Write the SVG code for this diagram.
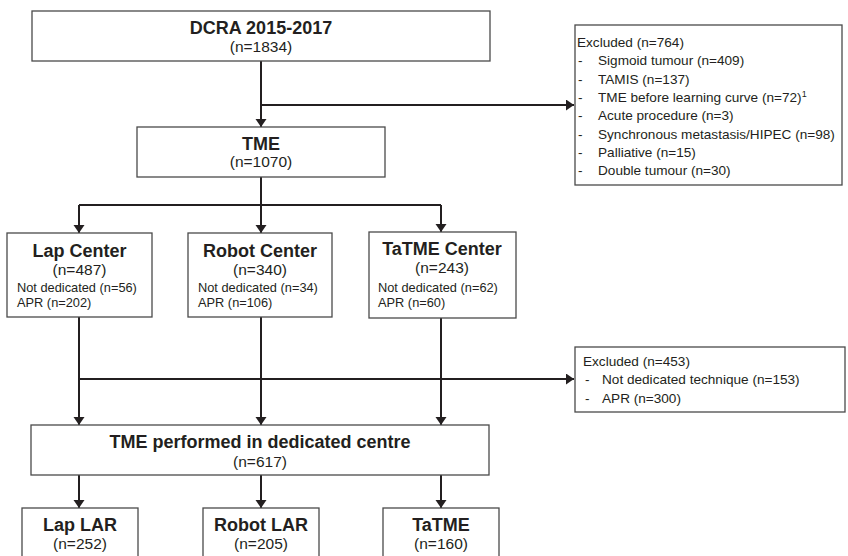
<svg xmlns="http://www.w3.org/2000/svg" width="848" height="556" viewBox="0 0 848 556">
<style>
.box{fill:#fff;stroke:#4a4a4a;stroke-width:1.3}
.t{font-family:"Liberation Sans",Arial,sans-serif;font-weight:bold;font-size:18px;fill:#231f20;text-anchor:middle}
.n{font-family:"Liberation Sans",Arial,sans-serif;font-size:15.5px;fill:#231f20;text-anchor:middle}
.d{font-family:"Liberation Sans",Arial,sans-serif;font-size:12.8px;fill:#231f20}
.x{font-family:"Liberation Sans",Arial,sans-serif;font-size:13.6px;fill:#231f20}
.c{fill:none;stroke:#231f20;stroke-width:2}
</style>
<defs>
<marker id="ah" markerUnits="userSpaceOnUse" markerWidth="9" markerHeight="12" refX="8" refY="5.5" orient="auto" viewBox="0 0 9 12">
<path d="M0,0 L8,5.5 L0,11 z" fill="#231f20"/>
</marker>
</defs>
<rect width="848" height="556" fill="#fff"/>
<g id="connectors">
<path class="c" d="M261,61 V127" marker-end="url(#ah)"/>
<path class="c" d="M261,105 H574" marker-end="url(#ah)"/>
<path class="c" d="M261,177 V205 M79,205 H441"/>
<path class="c" d="M79,205 V233" marker-end="url(#ah)"/>
<path class="c" d="M261,205 V233" marker-end="url(#ah)"/>
<path class="c" d="M441,205 V232" marker-end="url(#ah)"/>
<path class="c" d="M79,317 V425" marker-end="url(#ah)"/>
<path class="c" d="M261,317 V425" marker-end="url(#ah)"/>
<path class="c" d="M441,318 V425" marker-end="url(#ah)"/>
<path class="c" d="M79,379 H574" marker-end="url(#ah)"/>
<path class="c" d="M79,475 V508" marker-end="url(#ah)"/>
<path class="c" d="M261,475 V508" marker-end="url(#ah)"/>
<path class="c" d="M441,475 V508" marker-end="url(#ah)"/>
</g>
<g id="dcra">
<rect class="box" x="32" y="11" width="458" height="50"/>
<text class="t" x="261" y="34">DCRA 2015-2017</text>
<text class="n" x="261" y="52">(n=1834)</text>
</g>
<g id="excluded1">
<rect class="box" x="575" y="25" width="267" height="160"/>
<text class="x" x="577" y="47">Excluded (n=764)</text>
<g class="x">
<text x="578" y="65.3">-</text><text x="598" y="65.3">Sigmoid tumour (n=409)</text>
<text x="578" y="83.6">-</text><text x="598" y="83.6">TAMIS (n=137)</text>
<text x="578" y="102">-</text><text x="598" y="102">TME before learning curve (n=72)<tspan font-size="9px" dy="-5">1</tspan></text>
<text x="578" y="120.2">-</text><text x="598" y="120.2">Acute procedure (n=3)</text>
<text x="578" y="138.5">-</text><text x="598" y="138.5">Synchronous metastasis/HIPEC (n=98)</text>
<text x="578" y="156.8">-</text><text x="598" y="156.8">Palliative (n=15)</text>
<text x="578" y="175">-</text><text x="598" y="175">Double tumour (n=30)</text>
</g>
</g>
<g id="tme">
<rect class="box" x="137" y="127" width="248" height="50"/>
<text class="t" x="261" y="150">TME</text>
<text class="n" x="261" y="167">(n=1070)</text>
</g>
<g id="lapcenter">
<rect class="box" x="7" y="233" width="145" height="84"/>
<text class="t" x="79.5" y="256.7">Lap Center</text>
<text class="n" x="79.5" y="275">(n=487)</text>
<text class="d" x="17" y="292">Not dedicated (n=56)</text>
<text class="d" x="17" y="307">APR (n=202)</text>
</g>
<g id="robotcenter">
<rect class="box" x="188" y="233" width="144" height="84"/>
<text class="t" x="260" y="256.7">Robot Center</text>
<text class="n" x="260" y="275">(n=340)</text>
<text class="d" x="198" y="292">Not dedicated (n=34)</text>
<text class="d" x="198" y="307">APR (n=106)</text>
</g>
<g id="tatmecenter">
<rect class="box" x="369" y="232" width="147" height="86"/>
<text class="t" x="442" y="255">TaTME Center</text>
<text class="n" x="442" y="273">(n=243)</text>
<text class="d" x="378" y="292">Not dedicated (n=62)</text>
<text class="d" x="378" y="307">APR (n=60)</text>
</g>
<g id="excluded2">
<rect class="box" x="575" y="347" width="270" height="65"/>
<text class="x" x="583" y="365.7">Excluded (n=453)</text>
<g class="x">
<text x="585" y="384.3">-</text><text x="602" y="384.3">Not dedicated technique (n=153)</text>
<text x="585" y="402.7">-</text><text x="602" y="402.7">APR (n=300)</text>
</g>
</g>
<g id="dedicated">
<rect class="box" x="31" y="425" width="458" height="50"/>
<text class="t" x="260" y="448">TME performed in dedicated centre</text>
<text class="n" x="260" y="466.7">(n=617)</text>
</g>
<g id="laplar">
<rect class="box" x="22" y="508" width="116" height="60"/>
<text class="t" x="80" y="531">Lap LAR</text>
<text class="n" x="80" y="549">(n=252)</text>
</g>
<g id="robotlar">
<rect class="box" x="203" y="508" width="116" height="60"/>
<text class="t" x="261" y="531">Robot LAR</text>
<text class="n" x="261" y="549">(n=205)</text>
</g>
<g id="tatme">
<rect class="box" x="383" y="508" width="116" height="60"/>
<text class="t" x="441" y="531">TaTME</text>
<text class="n" x="441" y="549">(n=160)</text>
</g>
</svg>
